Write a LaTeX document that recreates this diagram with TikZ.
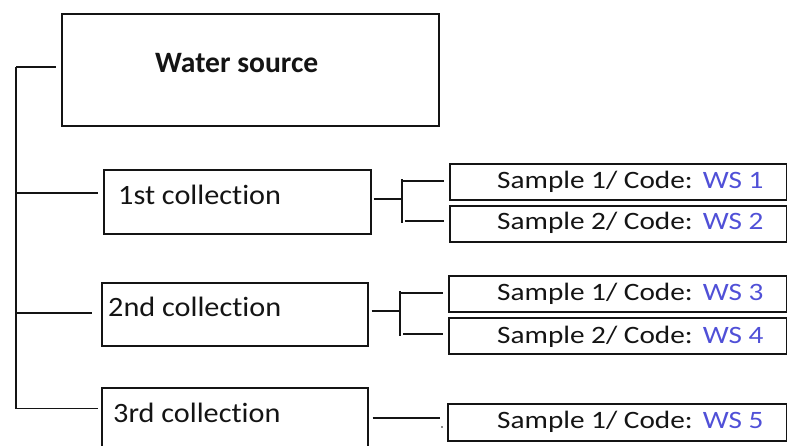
\documentclass[tikz,border=0pt]{standalone}
\usepackage{fontspec}
\setmainfont{Carlito}[Ligatures=NoCommon]
\newfontfamily\sampfont{Carlito}[FakeStretch=1.17, Ligatures=NoCommon]
\newfontfamily\collfont{Carlito}[FakeStretch=1.08, Ligatures=NoCommon]
\usetikzlibrary{calc}
\definecolor{ink}{RGB}{20,20,20}
\definecolor{wsblue}{RGB}{80,80,215}
\begin{document}
\begin{tikzpicture}[x=1pt,y=-1pt,
  box/.style={draw=ink, line width=1.7pt, anchor=north west, inner sep=0pt},
  wire/.style={draw=ink, line width=1.6pt},
  srctext/.style={anchor=base west, inner sep=0pt, text=ink, font=\fontsize{29.6}{34}\selectfont\bfseries},
  coltext/.style={anchor=base west, inner sep=0pt, text=ink, font=\collfont\fontsize{28}{32}\selectfont},
  samptext/.style={anchor=base west, inner sep=0pt, text=ink, font=\sampfont\fontsize{25}{29}\selectfont}
]
\useasboundingbox (0,0) rectangle (787,445);
\clip (0,0) rectangle (787,445);

% --- boxes -------------------------------------------------------------
\node[box, minimum width=377pt, minimum height=112pt] (src) at (61,13) {};
\node[box, minimum width=267pt, minimum height=64pt]  (c1)  at (103,169) {};
\node[box, minimum width=266pt, minimum height=63pt]  (c2)  at (101,282) {};
\node[box, minimum width=266pt, minimum height=80pt]  (c3)  at (101,387) {};

\node[box, minimum width=337pt, minimum height=36pt] (s1) at (449,163) {};
\node[box, minimum width=337pt, minimum height=36pt] (s2) at (449,205) {};
\node[box, minimum width=338pt, minimum height=36pt] (s3) at (448,275) {};
\node[box, minimum width=338pt, minimum height=36pt] (s4) at (448,317) {};
\node[box, minimum width=339pt, minimum height=37pt] (s5) at (447,403) {};

% --- texts -------------------------------------------------------------
\node[srctext] (srcT) at (155,72.5) {Water source};
\node[coltext] (c1T) at (118,204) {1st collection};
\node[coltext] (c2T) at (108,316.5) {2nd collection};
\node[coltext] (c3T) at (113,422) {3rd collection};

\node[samptext] (s1T) at (497,188) {Sample 1/ Code:\hspace{0.4em}\textcolor{wsblue}{WS 1}};
\node[samptext] (s2T) at (497,229.5) {Sample 2/ Code:\hspace{0.4em}\textcolor{wsblue}{WS 2}};
\node[samptext] (s3T) at (497,300) {Sample 1/ Code:\hspace{0.4em}\textcolor{wsblue}{WS 3}};
\node[samptext] (s4T) at (497,343) {Sample 2/ Code:\hspace{0.4em}\textcolor{wsblue}{WS 4}};
\node[samptext] (s5T) at (497,428) {Sample 1/ Code:\hspace{0.4em}\textcolor{wsblue}{WS 5}};

% --- main trunk on the left -------------------------------------------
\coordinate (trunkTop) at (16,67);
\coordinate (trunkBot) at (16,409);
\coordinate (c1in) at (16,193);
\coordinate (c2in) at (16,313);
\coordinate (c3in) at (16,408.5);

\draw[wire] (trunkTop) -- (trunkBot);
\draw[wire, shorten >=5pt] (trunkTop) -- (trunkTop -| src.west);
\draw[wire, shorten >=5pt] (c1in) -- (c1in -| c1.west);
\draw[wire, shorten >=9pt] (c2in) -- (c2in -| c2.west);
\draw[wire, shorten >=3pt] (c3in) -- (c3in -| c3.west);

% --- fork after the 1st collection -----------------------------------
\coordinate (f1) at (402,199);
\coordinate (f1top) at (402,179);
\coordinate (f1bot) at (402,223);
\coordinate (f1a) at (402,181);
\coordinate (f1b) at (402,221);
\draw[wire, shorten <=2pt] (c1.east |- f1) -- (f1);
\draw[wire] (f1top) -- (f1bot);
\draw[wire, shorten >=5pt] (f1a) -- (f1a -| s1.west);
\draw[wire, shorten <=3pt, shorten >=5pt] (f1b) -- (f1b -| s2.west);

% --- fork after the 2nd collection -----------------------------------
\coordinate (f2) at (400,311);
\coordinate (f2top) at (400,291);
\coordinate (f2bot) at (400,336);
\coordinate (f2a) at (400,293);
\coordinate (f2b) at (400,334);
\draw[wire, shorten <=3pt] (c2.east |- f2) -- (f2);
\draw[wire] (f2top) -- (f2bot);
\draw[wire, shorten >=5pt] (f2a) -- (f2a -| s3.west);
\draw[wire, shorten <=3pt, shorten >=5pt] (f2b) -- (f2b -| s4.west);

% --- single link after the 3rd collection ----------------------------
\coordinate (c3out) at (440,418);
\draw[wire, shorten <=4pt] (c3.east |- c3out) -- (c3out);
\node[circle, fill=ink, inner sep=0pt, minimum size=1.8pt] (tick) at (442,427) {};
\end{tikzpicture}
\end{document}
